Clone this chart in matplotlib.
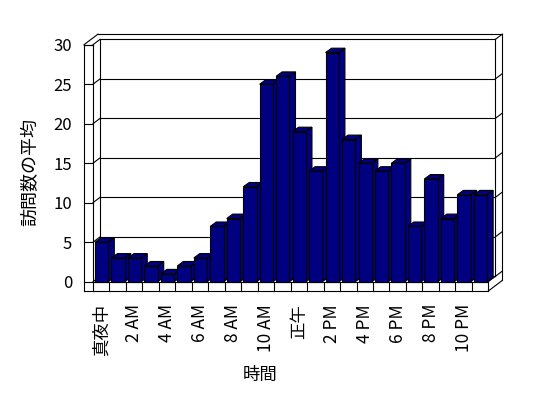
import matplotlib
matplotlib.use('Agg')
import matplotlib.pyplot as plt
from matplotlib.patches import Polygon

plt.rcParams['font.family'] = ['Noto Sans CJK JP', 'DejaVu Sans']

# data: average visits per hour
hours = ['真夜中', '1 AM', '2 AM', '3 AM', '4 AM', '5 AM', '6 AM', '7 AM',
         '8 AM', '9 AM', '10 AM', '11 AM', '正午', '1 PM', '2 PM', '3 PM',
         '4 PM', '5 PM', '6 PM', '7 PM', '8 PM', '9 PM', '10 PM', '11 PM']
visits = [5, 3, 3, 2, 1, 2, 3, 7, 8, 12, 25, 26,
          19, 14, 29, 18, 15, 14, 15, 7, 13, 8, 11, 11]
y_ticks = [0, 5, 10, 15, 20, 25, 30]

n = len(hours)
ymax = 30

# 3d look (data units)
dx, dy = 0.425, 0.67      # depth of walls
tx, ty = 0.546, 1.18      # wall / floor thickness
bdx, bdy = 0.364, 0.557   # bar depth
bar_l, bar_r = 0.12, 0.93
navy = '#000080'
lw = 0.8

fig = plt.figure(figsize=(5.48, 3.98), dpi=100)
W, H = 548, 398
ax = fig.add_axes([93 / W, 1 - 281.7 / H, 395.3 / W, 237 / H])
ax.set_xlim(0, n)
ax.set_ylim(0, ymax)
for s in ax.spines.values():
    s.set_visible(False)


def line(xs, ys):
    ax.plot(xs, ys, color='black', lw=lw, clip_on=False, zorder=2,
            solid_capstyle='projecting')


# white body of walls and floor
body = Polygon([(-tx, -ty), (-tx, ymax), (-tx + 2 * dx, ymax + 2 * dy),
                (n + 2 * dx, ymax + 2 * dy), (n + 2 * dx, -ty + 2 * dy),
                (n, -ty)], closed=True, facecolor='white', edgecolor='none',
               clip_on=False, zorder=1)
ax.add_patch(body)

# gridlines / ticks
for v in y_ticks:
    line([-tx, 0], [v, v])
    line([0, dx], [v, v + dy])
    line([dx, n + dx], [v + dy, v + dy])
    line([n + dx, n + 2 * dx], [v + dy, v + 2 * dy])

# frame
line([-tx, -tx], [-ty, ymax])
line([0, 0], [-ty, ymax])
line([-tx, 0], [ymax, ymax])
line([-tx, -tx + 2 * dx], [ymax, ymax + 2 * dy])
line([-tx + 2 * dx, n + 2 * dx], [ymax + 2 * dy, ymax + 2 * dy])
line([dx, dx], [dy, ymax + dy])
line([n + dx, n + dx], [dy, ymax + dy])
line([n + 2 * dx, n + 2 * dx], [-ty + 2 * dy, ymax + 2 * dy])
line([n, n + 2 * dx], [-ty, -ty + 2 * dy])
line([n, n + dx], [0, dy])
line([n, n], [-ty, 0])
line([-tx, n], [-ty, -ty])
line([0, n], [0, 0])
for i in range(1, n):
    line([i, i], [-ty, 0])

# bars, left to right so the next front face covers the previous side
for i, v in enumerate(visits):
    x0, x1 = i + bar_l, i + bar_r
    side = [(x1, 0), (x1 + bdx, bdy), (x1 + bdx, v + bdy), (x1, v)]
    top = [(x0, v), (x1, v), (x1 + bdx, v + bdy), (x0 + bdx, v + bdy)]
    front = [(x0, 0), (x1, 0), (x1, v), (x0, v)]
    for pts in (side, top, front):
        ax.add_patch(Polygon(pts, closed=True, facecolor=navy,
                             edgecolor='black', lw=lw, clip_on=False,
                             zorder=3))

ax.set_yticks(y_ticks)
ax.set_yticklabels([str(v) for v in y_ticks], fontsize=12)
ax.set_xticks([i + 0.5 for i in range(0, n, 2)])
ax.set_xticklabels(hours[::2], rotation=90, fontsize=12.5)
ax.tick_params(axis='y', length=0, pad=15)
ax.tick_params(axis='x', length=0, pad=16)

fig.text(260 / W, 1 - 375 / H, '時間', ha='center', va='center', fontsize=12.5)
fig.text(30 / W, 1 - 172 / H, '訪問数の平均', ha='center', va='center',
         rotation=90, fontsize=13)

fig.savefig('out.png', dpi=100)
